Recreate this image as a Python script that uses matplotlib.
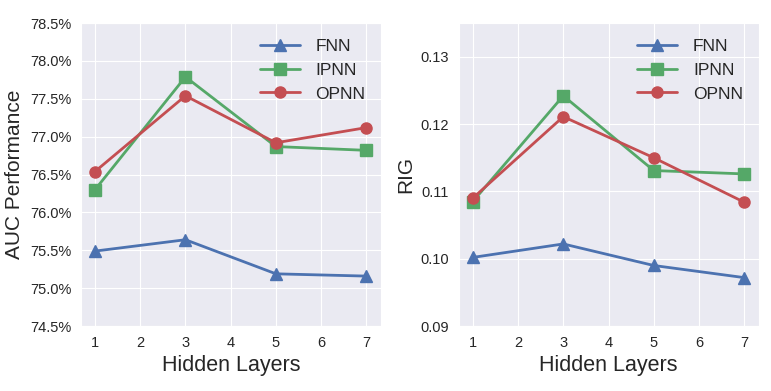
import matplotlib
matplotlib.use("Agg")
import matplotlib.pyplot as plt
import seaborn as sns
from matplotlib.ticker import FuncFormatter

layers = [1, 3, 5, 7]

auc_fnn = [75.49, 75.64, 75.19, 75.16]
auc_ipnn = [76.30, 77.79, 76.87, 76.82]
auc_opnn = [76.54, 77.54, 76.92, 77.12]

rig_fnn = [0.1002, 0.1022, 0.0990, 0.0972]
rig_ipnn = [0.1085, 0.1242, 0.1131, 0.1126]
rig_opnn = [0.1090, 0.1211, 0.1150, 0.1084]

names = ["FNN", "IPNN", "OPNN"]
markers = ["^", "s", "o"]
colors = ["#4C72B0", "#55A868", "#C44E52"]

sns.set_style("darkgrid")
plt.rcParams['font.family'] = ['Liberation Sans', 'DejaVu Sans']

fig, (ax1, ax2) = plt.subplots(1, 2, figsize=(7.71, 3.91), dpi=100)

for ys, name, m, c in zip([auc_fnn, auc_ipnn, auc_opnn], names, markers, colors):
    ax1.plot(layers, ys, marker=m, color=c, label=name, lw=2, ms=8)
for ys, name, m, c in zip([rig_fnn, rig_ipnn, rig_opnn], names, markers, colors):
    ax2.plot(layers, ys, marker=m, color=c, label=name, lw=2, ms=8)

ax1.set_ylim(74.5, 78.5)
ax1.set_yticks([74.5 + 0.5 * i for i in range(9)])
ax1.yaxis.set_major_formatter(FuncFormatter(lambda v, p: "%.1f%%" % v))
ax1.set_ylabel("AUC Performance", fontsize=15)

ax2.set_ylim(0.09, 0.135)
ax2.set_yticks([0.09, 0.10, 0.11, 0.12, 0.13])
ax2.yaxis.set_major_formatter(FuncFormatter(lambda v, p: "%.2f" % v))
ax2.set_ylabel("RIG", fontsize=15)

for ax in (ax1, ax2):
    ax.set_xlim(0.69, 7.32)
    ax.set_xticks(range(1, 8))
    ax.set_xlabel("Hidden Layers", fontsize=15.5)
    ax.tick_params(labelsize=10.5, colors="#262626")
    ax.legend(loc="upper right", fontsize=12.5, frameon=False, handlelength=2.3,
              handletextpad=0.9)

plt.subplots_adjust(left=0.105, right=0.984, top=0.941, bottom=0.166, wspace=0.26)
fig.savefig("out.png", dpi=100)
